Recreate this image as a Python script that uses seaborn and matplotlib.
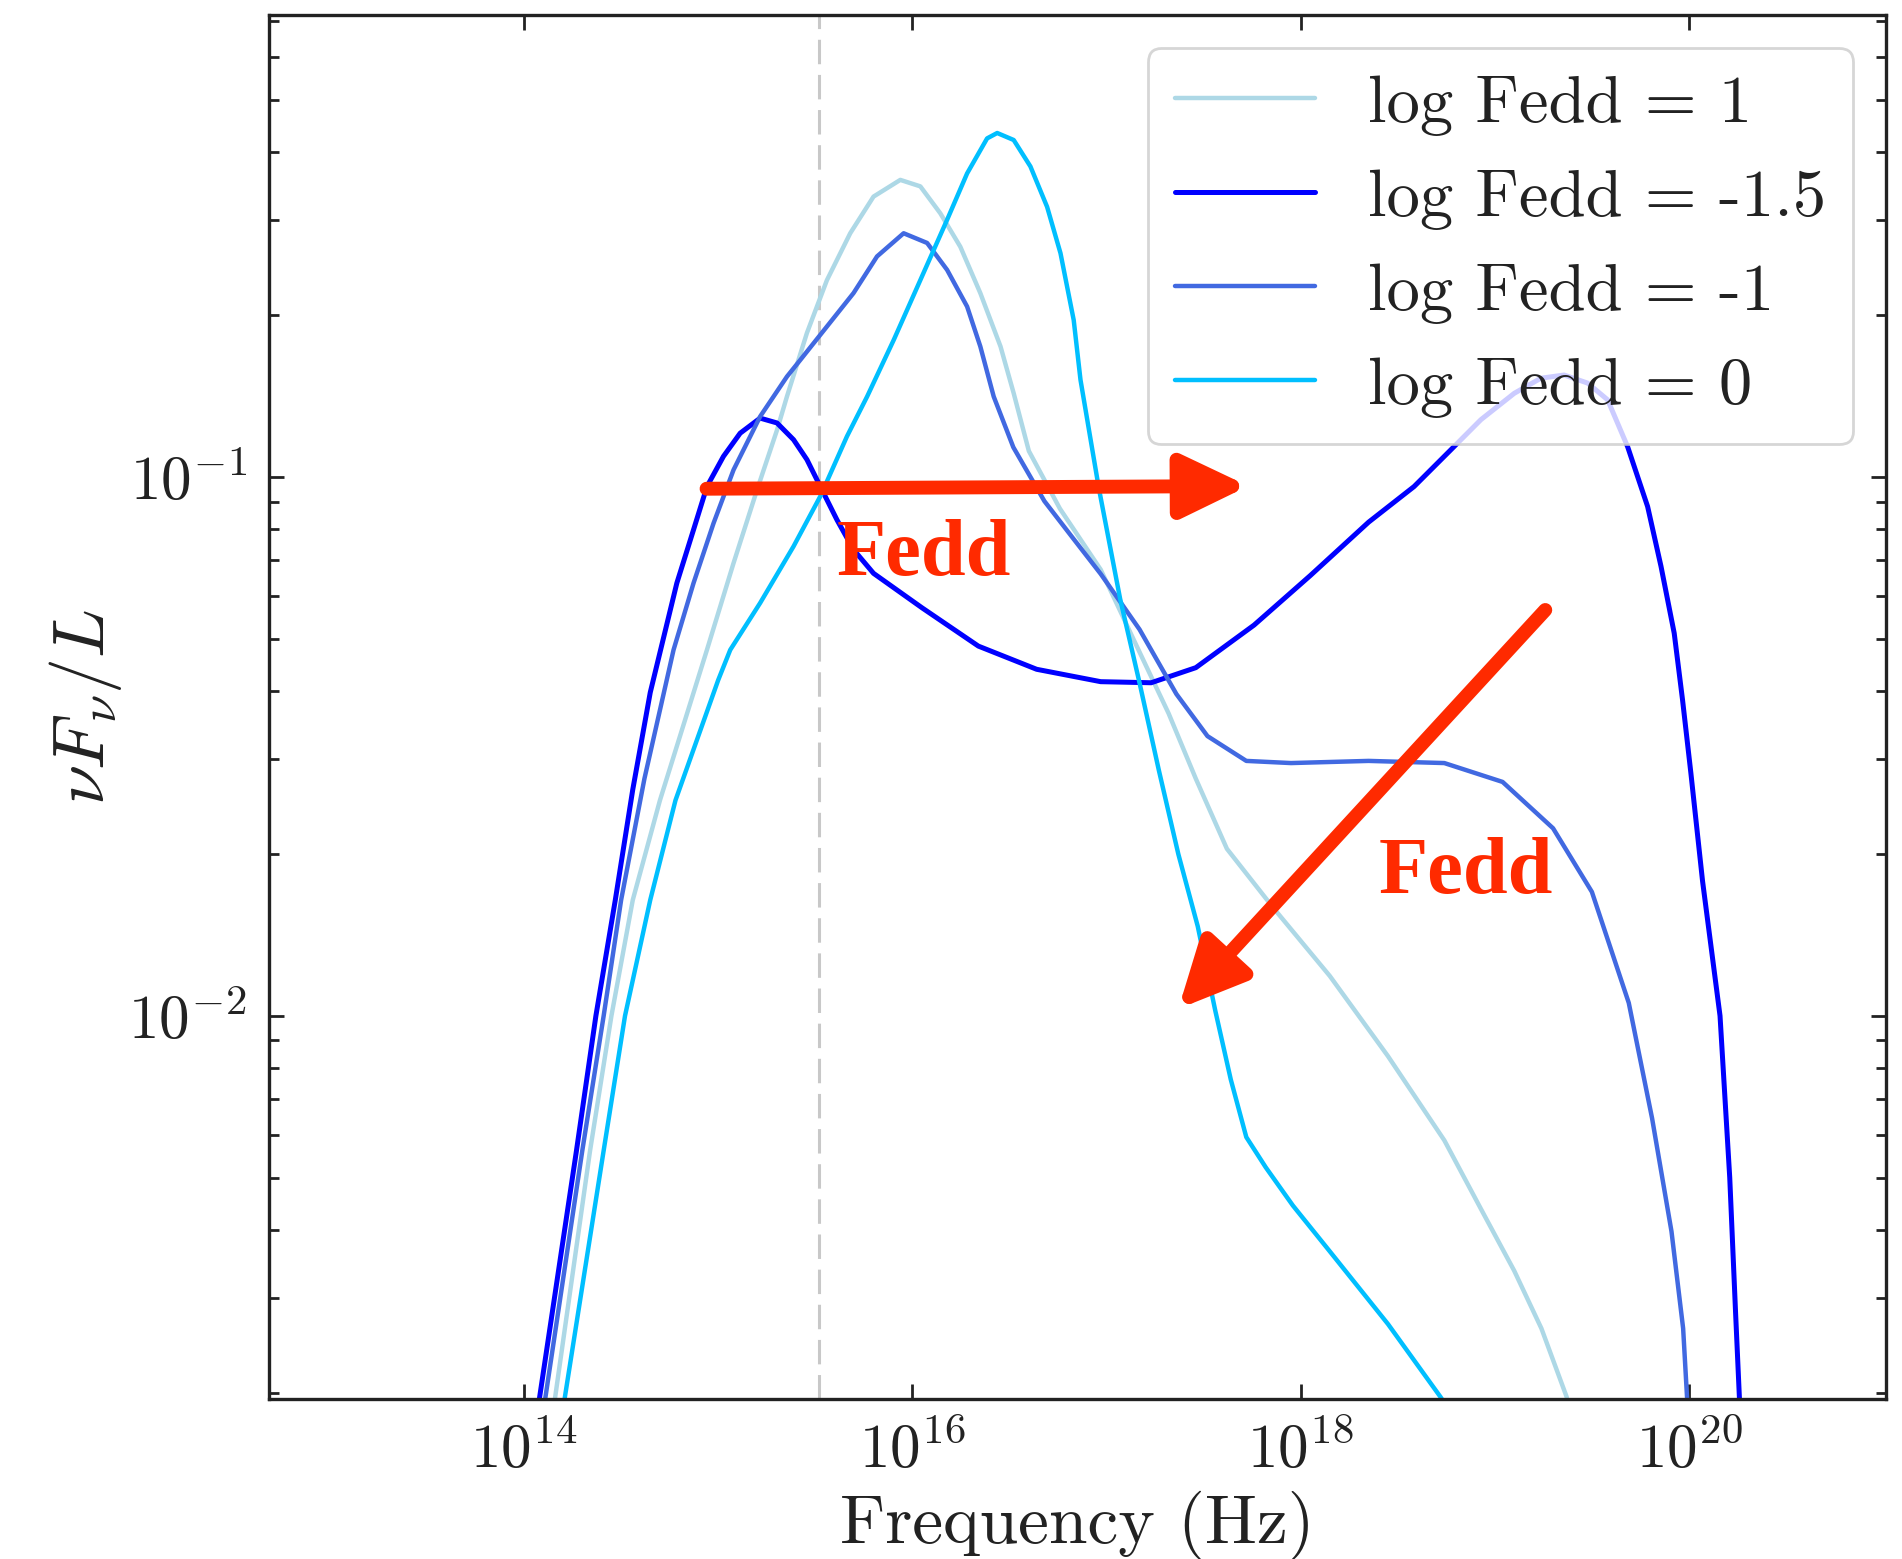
import numpy as np
import pandas as pd
import matplotlib
matplotlib.use('Agg')
import matplotlib.pyplot as plt
import matplotlib.ticker as mticker
import seaborn as sns

# SED curves: log10(nu / Hz) and log10(nu F_nu / L)
logx_fedd_p1 = [14.14, 14.16, 14.34, 14.45, 14.56, 14.70, 14.942, 15.079, 15.20, 15.303,
                15.354, 15.457, 15.56, 15.68, 15.80, 15.938, 16.041, 16.144, 16.247, 16.35,
                16.454, 16.522, 16.60, 16.76, 16.97, 17.17, 17.32, 17.46, 17.62, 17.86,
                18.15, 18.45, 18.74, 18.94, 19.10, 19.24, 19.37, 19.40]
logy_fedd_p1 = [-2.80, -2.708, -2.25, -2.0, -1.785, -1.60, -1.321, -1.16, -1.024, -0.913,
                -0.851, -0.733, -0.635, -0.548, -0.48, -0.449, -0.461, -0.511, -0.573, -0.659,
                -0.758, -0.845, -0.952, -1.059, -1.172, -1.325, -1.439, -1.56, -1.69, -1.80,
                -1.926, -2.075, -2.231, -2.366, -2.473, -2.58, -2.707, -2.76]

logx_fedd_m15 = [14.06, 14.08, 14.27, 14.37, 14.47, 14.56, 14.65, 14.787, 14.873, 14.942,
                 15.027, 15.113, 15.216, 15.303, 15.388, 15.457, 15.526, 15.612, 15.697, 15.80,
                 16.05, 16.34, 16.64, 16.97, 17.23, 17.46, 17.76, 18.05, 18.35, 18.584,
                 18.773, 18.928, 19.10, 19.237, 19.357, 19.478, 19.581, 19.684, 19.787, 19.856,
                 19.924, 19.967, 20.01, 20.07, 20.16, 20.21, 20.24, 20.26, 20.27]
logy_fedd_m15 = [-2.80, -2.708, -2.25, -2.0, -1.785, -1.58, -1.40, -1.197, -1.098, -1.018,
                 -0.962, -0.919, -0.891, -0.90, -0.931, -0.968, -1.018, -1.08, -1.135, -1.179,
                 -1.243, -1.314, -1.357, -1.38, -1.382, -1.354, -1.275, -1.183, -1.084, -1.018,
                 -0.95, -0.894, -0.845, -0.817, -0.811, -0.826, -0.857, -0.944, -1.055, -1.166,
                 -1.29, -1.414, -1.55, -1.75, -2.0, -2.3, -2.55, -2.71, -2.80]

logx_fedd_m1 = [14.09, 14.11, 14.30, 14.41, 14.50, 14.62, 14.77, 14.873, 14.976, 15.079,
                15.216, 15.354, 15.423, 15.56, 15.697, 15.818, 15.955, 16.076, 16.179, 16.282,
                16.35, 16.419, 16.52, 16.68, 16.83, 16.97, 17.17, 17.36, 17.52, 17.72,
                17.95, 18.35, 18.74, 19.04, 19.30, 19.50, 19.69, 19.81, 19.91, 19.97,
                19.99, 20.00]
logy_fedd_m1 = [-2.80, -2.708, -2.25, -2.0, -1.785, -1.56, -1.321, -1.197, -1.086, -0.987,
                -0.888, -0.814, -0.783, -0.721, -0.659, -0.591, -0.548, -0.566, -0.616, -0.684,
                -0.758, -0.851, -0.945, -1.045, -1.115, -1.18, -1.283, -1.403, -1.481, -1.527,
                -1.531, -1.527, -1.531, -1.566, -1.652, -1.77, -1.976, -2.19, -2.40, -2.58,
                -2.707, -2.78]

logx_fedd_0 = [14.19, 14.21, 14.41, 14.52, 14.65, 14.78, 15.0, 15.062, 15.216, 15.388,
               15.526, 15.663, 15.767, 15.904, 16.041, 16.179, 16.282, 16.385, 16.437, 16.522,
               16.608, 16.694, 16.763, 16.831, 16.866, 16.96, 17.07, 17.17, 17.27, 17.37,
               17.47, 17.56, 17.64, 17.72, 17.82, 17.96, 18.15, 18.45, 18.72, 18.78]
logy_fedd_0 = [-2.80, -2.708, -2.25, -2.0, -1.785, -1.60, -1.377, -1.321, -1.234, -1.129,
               -1.036, -0.925, -0.851, -0.746, -0.635, -0.523, -0.437, -0.372, -0.362, -0.375,
               -0.424, -0.499, -0.585, -0.709, -0.82, -1.02, -1.226, -1.382, -1.545, -1.70,
               -1.834, -1.99, -2.118, -2.225, -2.281, -2.352, -2.437, -2.572, -2.707, -2.74]

labels = ['log Fedd = 1', 'log Fedd = -1.5', 'log Fedd = -1', 'log Fedd = 0']
colors = ['#add8e6', '#0000ff', '#4169e1', '#00bfff']
series_x = [logx_fedd_p1, logx_fedd_m15, logx_fedd_m1, logx_fedd_0]
series_y = [logy_fedd_p1, logy_fedd_m15, logy_fedd_m1, logy_fedd_0]

# characteristic frequency (dashed line) and annotation arrows, log10 units
log_nu_mark = 15.52
arrow1_tail, arrow1_tip = (14.94, -1.022), (17.73, -1.017)
arrow2_tail, arrow2_tip = (19.26, -1.247), (17.37, -1.987)
text1_pos = (16.06, -1.145)
text2_pos = (18.85, -1.735)

frames = []
for lab, lx, ly in zip(labels, series_x, series_y):
    frames.append(pd.DataFrame({'freq': 10 ** np.array(lx),
                                'nufnu': 10 ** np.array(ly),
                                'model': lab}))
df = pd.concat(frames, ignore_index=True)

sns.set_theme(style='ticks')
plt.rcParams['font.family'] = ['cmr10']
plt.rcParams['mathtext.fontset'] = 'cm'
plt.rcParams['axes.formatter.use_mathtext'] = True
plt.rcParams['axes.unicode_minus'] = False

fig, ax = plt.subplots(figsize=(9.51, 7.795), dpi=200)
fig.subplots_adjust(left=0.1414, right=0.9916, top=0.9904, bottom=0.1026)

for lab, col in zip(labels, colors):
    sub = df[df['model'] == lab]
    sns.lineplot(data=sub, x='freq', y='nufnu', color=col, label=lab,
                 lw=1.8 if col == '#0000ff' else 1.6, ax=ax,
                 estimator=None, sort=False)

ax.axvline(10 ** log_nu_mark, color='#c8c8c8', lw=1.1, ls=(0, (8, 3.5)), zorder=0)

ax.set_xscale('log')
ax.set_yscale('log')
ax.set_xlim(10 ** 12.686, 10 ** 21.015)
ax.set_ylim(10 ** -2.711, 10 ** -0.143)

ax.xaxis.set_major_locator(mticker.FixedLocator([1e14, 1e16, 1e18, 1e20]))
ax.xaxis.set_major_formatter(mticker.LogFormatterSciNotation())
ax.xaxis.set_minor_locator(mticker.NullLocator())

ax.tick_params(which='both', direction='in', top=True, right=True,
               labelsize=22, colors='#222222', width=1.0)
ax.tick_params(which='major', length=5.5, pad=8)
ax.tick_params(which='minor', length=3.5)
for sp in ax.spines.values():
    sp.set_linewidth(1.2)
    sp.set_color('#222222')

ax.set_xlabel('Frequency (Hz)', fontsize=25, color='#222222', labelpad=4)
ax.set_ylabel(r'$\nu F_\nu / L$', fontsize=26, color='#222222', labelpad=1.5)

red = '#ff2a00'
for tail, tip in [(arrow1_tail, arrow1_tip), (arrow2_tail, arrow2_tip)]:
    ax.annotate('', xy=(10 ** tip[0], 10 ** tip[1]),
                xytext=(10 ** tail[0], 10 ** tail[1]),
                arrowprops=dict(arrowstyle='-|>,head_length=1.0,head_width=0.48',
                                color=red, lw=5, mutation_scale=20,
                                shrinkA=0, shrinkB=0))

for pos in [text1_pos, text2_pos]:
    ax.text(10 ** pos[0], 10 ** pos[1], 'Fedd', color=red, fontsize=29,
            fontweight='bold', family=['Liberation Serif'],
            ha='center', va='center')

leg = ax.legend(loc='upper right', fontsize=24, handlelength=2.1,
                framealpha=0.8, fancybox=True, edgecolor='#cccccc',
                borderaxespad=0.5)
for t in leg.get_texts():
    t.set_color('#222222')

fig.savefig('out.png', dpi=200)
